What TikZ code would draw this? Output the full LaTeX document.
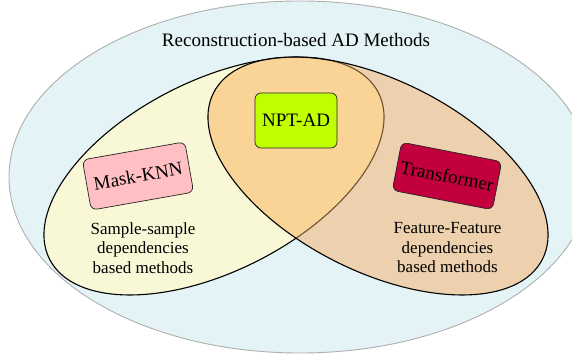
\documentclass[tikz,border=0pt]{standalone}
\usepackage{fontspec}
\setmainfont{Liberation Serif}
\definecolor{outerfill}{HTML}{E4F3F6}
\definecolor{outerline}{HTML}{AFAFAF}
\definecolor{leftfill}{HTML}{F8F7D6}
\definecolor{rightfill}{HTML}{EDD1AE}
\definecolor{bothfill}{HTML}{FAD396}
\definecolor{hiddenline}{HTML}{6E5032}
\definecolor{knnfill}{HTML}{FFBFC3}
\definecolor{nptfill}{HTML}{C0FF00}
\definecolor{trfill}{HTML}{C1003D}
\begin{document}
\begin{tikzpicture}[x=1pt,y=-1pt,
  method/.style={draw=black!85, line width=0.7pt, rounded corners=6pt,
    inner sep=0pt, font=\fontsize{19}{22}\selectfont, text=black},
  caption/.style={align=center, inner sep=0pt,
    font=\fontsize{17}{19.5}\selectfont},
  vennline/.style={line width=1.1pt},
  leftset/.style={rotate around={26.8:(214,176)}},
  rightset/.style={rotate around={-26.8:(378,176)}}]
\useasboundingbox (0,0) rectangle (572,358);

% universe of reconstruction-based methods
\fill[outerfill] (300,177) ellipse [x radius=291pt, y radius=176pt];
\draw[outerline, line width=0.9pt] (300,177) ellipse [x radius=291pt, y radius=176pt];

% sample-sample set
\fill[leftfill, leftset] (214,176) ellipse [x radius=184.3pt, y radius=95.4pt];
\draw[vennline, leftset] (214,176) ellipse [x radius=184.3pt, y radius=95.4pt];

% feature-feature set
\fill[rightfill, rightset] (378,176) ellipse [x radius=184.3pt, y radius=95.4pt];

% overlap of both sets
\begin{scope}
  \clip[rightset] (378,176) ellipse [x radius=184.3pt, y radius=95.4pt];
  \fill[bothfill, leftset] (214,176) ellipse [x radius=184.3pt, y radius=95.4pt];
  \draw[hiddenline, vennline, leftset] (214,176) ellipse [x radius=184.3pt, y radius=95.4pt];
\end{scope}
\draw[vennline, rightset] (378,176) ellipse [x radius=184.3pt, y radius=95.4pt];

% labels
\node[font=\fontsize{19}{22}\selectfont] (title) at (296,40) {Reconstruction-based AD Methods};
\node[method, fill=nptfill, minimum width=82pt, minimum height=55pt] (npt) at (296,120.5) {NPT-AD};
\node[method, fill=knnfill, minimum width=104pt, minimum height=51pt, rotate=10] (knn) at (138,176) {Mask-KNN};
\node[method, fill=trfill, minimum width=102pt, minimum height=49pt, rotate=-11] (trf) at (447,176) {Transformer};
\node[caption] (ss) at (143,248) {Sample-sample\\dependencies\\based methods};
\node[caption] (ff) at (447.5,248) {Feature-Feature\\dependencies\\based methods};
\end{tikzpicture}
\end{document}
